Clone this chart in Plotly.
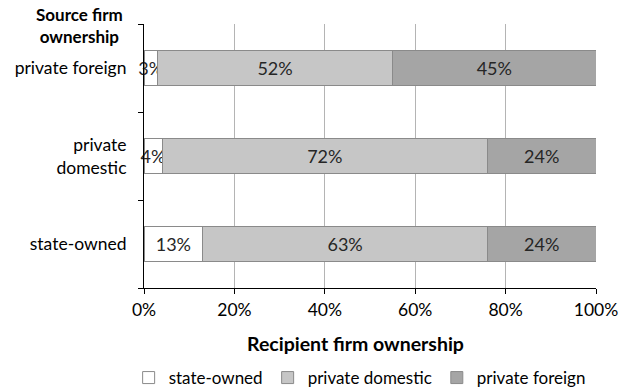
import plotly.graph_objects as go

# Source firm ownership (rows), bottom to top
sources = ["state-owned", "private<br>domestic", "private foreign"]

# Share of recipients by ownership type, in percent
state_owned = [13, 4, 3]
private_domestic = [63, 72, 52]
private_foreign = [24, 24, 45]

series = [
    ("state-owned", state_owned, "#ffffff"),
    ("private domestic", private_domestic, "#c6c6c6"),
    ("private foreign", private_foreign, "#a5a5a5"),
]

FONT = "Lato"
fig = go.Figure()
for name, vals, color in series:
    fig.add_trace(go.Bar(
        y=sources, x=vals, name=name, orientation="h",
        marker=dict(color=color, line=dict(color="#8a8a8a", width=1)),
        text=[f"{v}%" for v in vals], textposition="inside",
        insidetextanchor="middle", constraintext="none", textangle=0,
        textfont=dict(family=FONT, size=18, color="#262626"),
        cliponaxis=False,
    ))

fig.update_layout(
    barmode="stack", bargap=0.6,
    width=620, height=390,
    margin=dict(l=144, r=24, t=24, b=102, autoexpand=False),
    paper_bgcolor="white", plot_bgcolor="white",
    font=dict(family=FONT, size=17.5, color="#000000"),
    uniformtext=dict(mode=False),
    xaxis=dict(
        range=[0, 100], tickvals=[0, 20, 40, 60, 80, 100],
        ticktext=["0%", "20%", "40%", "60%", "80%", "100%"],
        showgrid=True, gridcolor="#b4b4b4", gridwidth=1,
        showline=True, linecolor="#000000", linewidth=1,
        ticks="outside", ticklen=5, tickcolor="#000000",
        ticklabelstandoff=1, automargin=False,
        zeroline=False, fixedrange=True,
    ),
    yaxis=dict(
        showline=True, linecolor="#000000", linewidth=1,
        ticks="outside", ticklen=5, tickcolor="#000000",
        tickson="boundaries", showgrid=False, ticklabelstandoff=13,
        automargin=False,
    ),
    legend=dict(
        orientation="h", x=-0.034, xanchor="left",
        y=-0.341, yanchor="middle",
        font=dict(family=FONT, size=17), traceorder="normal",
        itemwidth=30, tracegroupgap=0,
    ),
    annotations=[
        dict(text="<b>Source firm<br>ownership</b>", xref="paper", yref="paper",
             x=-0.142, y=0.996, xanchor="center", yanchor="middle",
             showarrow=False, font=dict(family=FONT, size=17)),
        dict(text="<b>Recipient firm ownership</b>", xref="paper", yref="paper",
             x=0.469, y=-0.212, xanchor="center", yanchor="middle",
             showarrow=False, font=dict(family=FONT, size=19.5)),
    ],
)

fig.write_html("out.html")
